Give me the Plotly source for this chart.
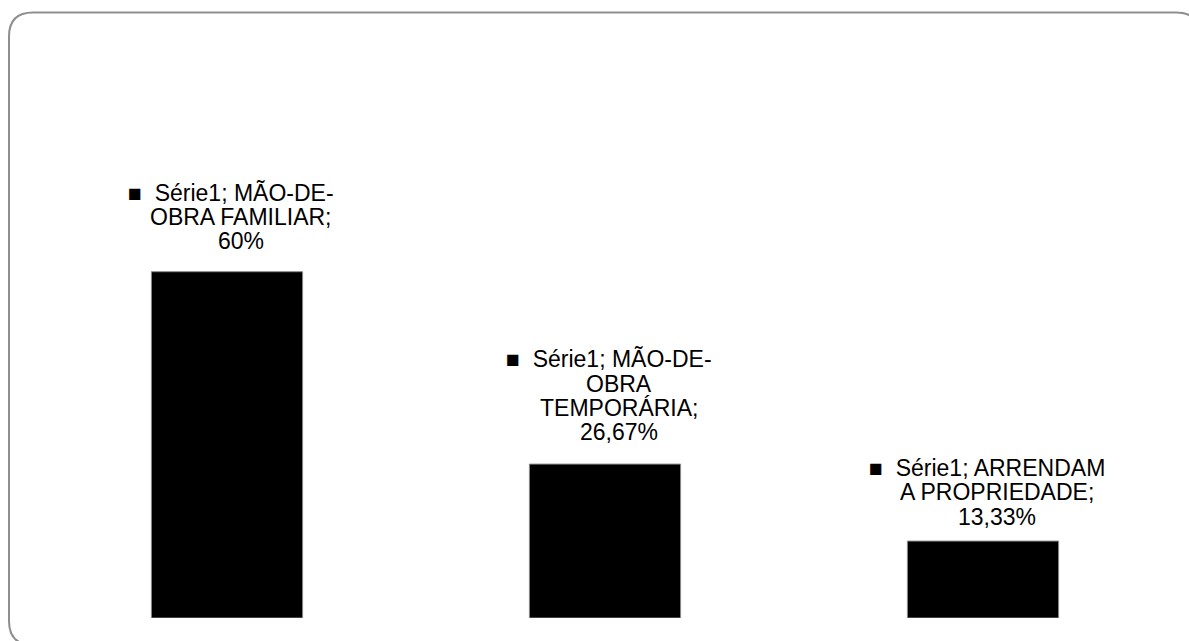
import plotly.graph_objects as go

# ---- data ----
categories = ["MÃO-DE-OBRA FAMILIAR", "MÃO-DE-OBRA TEMPORÁRIA", "ARRENDAM A PROPRIEDADE"]
values = [60.0, 26.67, 13.33]          # percent
series_name = "Série1"
# how each category name is wrapped inside its data label
label_name_lines = [
    ["MÃO-DE-", "OBRA FAMILIAR;"],
    ["MÃO-DE-", "OBRA", "TEMPORÁRIA;"],
    ["ARRENDAM", "A PROPRIEDADE;"],
]

# ---- layout constants (pixels) ----
W, H = 1189, 641
ML, MR, MT, MB = 38, 17, 214, 23
PW, PH = W - ML - MR, H - MT - MB
FONT = "Liberation Sans, Arial, sans-serif"
FS = 23
PITCH = 24.2
GAPS = [22.5, 24.0, 16.5]   # baseline of last line -> bar top


def fmt_pct(v):
    s = f"{v:.2f}".replace(".", ",").rstrip("0").rstrip(",")
    return s + "%"


fig = go.Figure()
fig.add_trace(go.Bar(
    x=categories, y=values, name=series_name,
    width=0.4,
    marker=dict(color="#000000", line=dict(color="#8a8a8a", width=1)),
    hoverinfo="skip",
))

annotations = []
for i, (cat, v) in enumerate(zip(categories, values)):
    lines = list(label_name_lines[i])
    lines[0] = "■\u00a0\u00a0" + series_name + "; " + lines[0]
    lines.append(fmt_pct(v))
    n = len(lines)
    for j, txt in enumerate(lines):
        k = n - 1 - j
        yshift = GAPS[i] + 8 + PITCH * k
        xshift = 4 if j == 0 else 14
        annotations.append(dict(
            x=cat, y=v, xref="x", yref="y", text=txt, showarrow=False,
            xanchor="center", yanchor="middle", xshift=xshift, yshift=yshift,
            font=dict(family=FONT, size=FS, color="#000000"),
        ))


def px2paper(px, py):
    return (px - ML) / PW, (H - MB - py) / PH


# rounded outer border (chart area frame)
L, T, R, B, RAD = 9, 12.5, 1200, 645, 24
pts = []
def P(px, py):
    x, y = px2paper(px, py)
    return f"{x:.5f},{y:.5f}"
path = (f"M {P(L + RAD, T)} L {P(R - RAD, T)} Q {P(R, T)} {P(R, T + RAD)} "
        f"L {P(R, B - RAD)} Q {P(R, B)} {P(R - RAD, B)} "
        f"L {P(L + RAD, B)} Q {P(L, B)} {P(L, B - RAD)} "
        f"L {P(L, T + RAD)} Q {P(L, T)} {P(L + RAD, T)} Z")

fig.update_layout(
    width=W, height=H,
    margin=dict(l=ML, r=MR, t=MT, b=MB, pad=0),
    paper_bgcolor="white", plot_bgcolor="white",
    showlegend=False,
    bargap=0.6,
    xaxis=dict(showticklabels=False, showgrid=False, zeroline=False,
               showline=False, ticks="", fixedrange=True),
    yaxis=dict(range=[0, 70], showticklabels=False, showgrid=False,
               zeroline=False, showline=False, ticks="", fixedrange=True),
    annotations=annotations,
    shapes=[dict(type="path", xref="paper", yref="paper", path=path,
                 line=dict(color="#8f8f8f", width=2), fillcolor="rgba(0,0,0,0)",
                 layer="above")],
    font=dict(family=FONT),
)

fig.write_html("out.html", config={"displayModeBar": False})
